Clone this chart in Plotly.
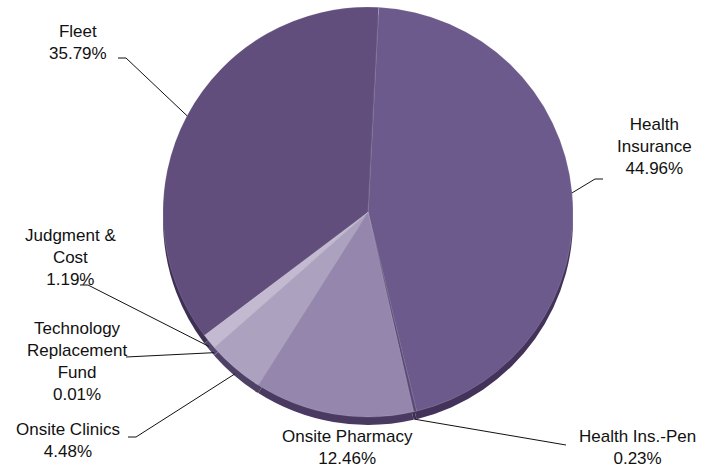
import math
import plotly.graph_objects as go

# Budget shares by fund (percent of total)
labels = ["Health Insurance", "Health Ins.-Pen", "Onsite Pharmacy", "Onsite Clinics",
          "Technology Replacement Fund", "Judgment & Cost", "Fleet"]
values = [44.96, 0.23, 12.46, 4.48, 0.01, 1.19, 35.79]
label_text = ["Health<br>Insurance", "Health Ins.-Pen", "Onsite Pharmacy", "Onsite Clinics",
              "Technology<br>Replacement<br>Fund", "Judgment &<br>Cost", "Fleet"]

colors = ["#6B5A8B", "#5A4878", "#9486AC", "#ACA2BF", "#C8C0D6", "#C3BAD1", "#614E7C"]
rim_colors = ["#43335A", "#3C2D52", "#4A3A62", "#4F4066", "#55466C", "#55466C", "#3E2F54"]

W, H = 710, 469
CX, CY, R = 368, 212, 205   # pie centre and radius in pixels
RIM = 8                      # depth of the bottom rim
ROT = 3                      # start angle (degrees clockwise from 12 o'clock)


def dom(cx, cy, r):
    return dict(x=[(cx - r) / W, (cx + r) / W], y=[1 - (cy + r) / H, 1 - (cy - r) / H])


def px(x, y):
    return x / W, 1 - y / H


fig = go.Figure()
# darker copy underneath, shifted down, forms the 3D rim
fig.add_trace(go.Pie(values=values, labels=labels, sort=False, direction="clockwise",
                     rotation=ROT, textinfo="none", hoverinfo="skip",
                     marker=dict(colors=rim_colors, line=dict(width=0)),
                     domain=dom(CX, CY + RIM, R), showlegend=False))
fig.add_trace(go.Pie(values=values, labels=labels, sort=False, direction="clockwise",
                     rotation=ROT, textinfo="none",
                     marker=dict(colors=colors, line=dict(width=0.6, color="rgba(255,255,255,0.25)")),
                     domain=dom(CX, CY, R), showlegend=False))

# label block centres and leader-line start points (pixels)
label_pos = {
    "Health Insurance": (654, 146),
    "Health Ins.-Pen": (637, 447),
    "Onsite Pharmacy": (347, 447),
    "Onsite Clinics": (68, 440),
    "Technology Replacement Fund": (77, 361),
    "Judgment & Cost": (70, 257),
    "Fleet": (78, 43),
}
leader_start = {
    "Health Insurance": [(603, 179), (595, 179)],
    "Health Ins.-Pen": [(566, 445)],
    "Onsite Clinics": [(128, 437), (136, 437)],
    "Technology Replacement Fund": [(126, 357)],
    "Judgment & Cost": [(80, 285), (88, 285)],
    "Fleet": [(118, 58), (126, 58)],
}

total = sum(values)
cum = 0.0
shapes, annotations = [], []
for name, v, txt in zip(labels, values, label_text):
    mid = ROT + (cum + v / 2) / total * 360
    cum += v
    a = math.radians(mid)
    ax = CX + R * math.sin(a)
    ay = CY - R * math.cos(a) + RIM * max(0.0, -math.cos(a))
    lx, ly = label_pos[name]
    annotations.append(dict(x=px(lx, ly)[0], y=px(lx, ly)[1], xref="paper", yref="paper",
                            text=f"{txt}<br>{v:.2f}%", showarrow=False, align="center",
                            xanchor="center", yanchor="middle",
                            font=dict(family="Arial, Liberation Sans, sans-serif", size=17,
                                      color="#111111")))
    if name in leader_start:
        pts = leader_start[name] + [(ax, ay)]
        path = "M " + " L ".join(f"{px(x, y)[0]},{px(x, y)[1]}" for x, y in pts)
        shapes.append(dict(type="path", xref="paper", yref="paper", path=path,
                           line=dict(color="#111111", width=1)))

fig.update_layout(width=W, height=H, margin=dict(l=0, r=0, t=0, b=0),
                  paper_bgcolor="white", plot_bgcolor="white",
                  shapes=shapes, annotations=annotations, showlegend=False)

fig.write_html("out.html")
